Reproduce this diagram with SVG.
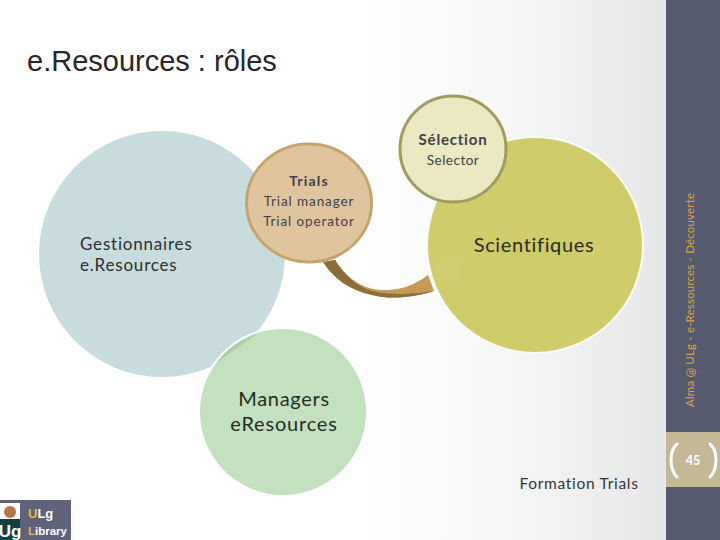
<svg xmlns="http://www.w3.org/2000/svg" width="720" height="540" viewBox="0 0 720 540">
<style>
.c{font-family:Lato,"Open Sans","Liberation Sans",sans-serif;font-variant-ligatures:none}
.m{text-anchor:middle}
.d{fill:#3f4148}
.b{font-weight:700}
</style>
<defs>
<linearGradient id="bg" gradientUnits="userSpaceOnUse" x1="360" y1="0" x2="666" y2="0">
<stop offset="0" stop-color="#ffffff"/>
<stop offset="0.45" stop-color="#f7f7f7"/>
<stop offset="1" stop-color="#e6e7e8"/>
</linearGradient>
</defs>
<rect id="background" width="720" height="540" fill="url(#bg)"/>
<g id="sidebar">
<rect x="666" width="54" height="540" fill="#555a6e"/>
<rect x="666" y="432" width="54" height="55" fill="#c4b795"/>
<path d="M677 444Q671 449 671 460Q671 471 677 477M710 444Q716 449 716 460Q716 471 710 477" fill="none" stroke="#fff" stroke-width="3" stroke-linecap="round"/>
<text class="c m b" x="693" y="465" font-size="12.5" fill="#fff">45</text>
<text class="c" transform="translate(694 407) rotate(-90)" font-size="11.5" fill="#d9a441" textLength="214" lengthAdjust="spacing">Alma @ ULg - e-Ressources - Découverte</text>
</g>
<text id="title" x="27" y="71" font-family="'Liberation Sans',sans-serif" font-size="29" fill="#26262c">e.Resources : rôles</text>
<g id="connectors">
<path d="M323 262C335 280 350 290 372 295C392 300 415 297 434 291L428 275C415 285 400 290 387 290C365 291 348 280 335 260Z" fill="#c49a55"/>
<path d="M323 262C335 280 350 290 372 295C392 300 415 297 434 291C410 295 390 295 372 291C358 287 345 276 335 260Z" fill="#8d6d3a"/>
</g>
<g id="node-gestionnaires">
<circle cx="162" cy="254" r="123" fill="#c9dcdd"/>
<text class="c" x="80" y="250" font-size="17" letter-spacing="0.8" fill="#2b2f33">Gestionnaires</text>
<text class="c" x="80" y="271" font-size="17" letter-spacing="0.8" fill="#2b2f33">e.Resources</text>
</g>
<g id="node-scientifiques">
<circle cx="535" cy="245" r="109" fill="#fbfbf6"/>
<circle cx="535" cy="245" r="107" fill="#d0cb6b"/>
<path d="M434 262L456 256L459 276L436 284Z" fill="#d4cf78" opacity="0.6"/>
<text class="c m" x="534" y="252" font-size="20" letter-spacing="0.65" fill="#2b2d1f">Scientifiques</text>
</g>
<g id="node-managers">
<circle cx="283" cy="412" r="85" fill="#fff"/>
<circle cx="283" cy="412" r="83" fill="#c3e0bf"/>
<path d="M217 362A83 83 0 0 1 257 334Z" fill="#a9cfa8"/>
<text class="c m" x="284" y="406" font-size="20" letter-spacing="0.7" fill="#1f2e1f">Managers</text>
<text class="c m" x="284" y="431" font-size="20" letter-spacing="0.8" fill="#1f2e1f">eResources</text>
</g>
<g id="node-trials">
<ellipse cx="309" cy="203" rx="62.5" ry="59" fill="#dfc49d" stroke="#c5a36c" stroke-width="3"/>
<text class="c m b d" x="309" y="186" font-size="14" letter-spacing="1.2">Trials</text>
<text class="c m d" x="309" y="206" font-size="13.5" letter-spacing="0.9">Trial manager</text>
<text class="c m d" x="309" y="226" font-size="13.5" letter-spacing="0.9">Trial operator</text>
</g>
<g id="node-selection">
<circle cx="453" cy="149" r="53" fill="#ece8c1" stroke="#9e9c5e" stroke-width="3"/>
<text class="c m b d" x="453" y="145" font-size="15" letter-spacing="0.8">Sélection</text>
<text class="c m d" x="453" y="165" font-size="13.5" letter-spacing="0.5">Selector</text>
</g>
<text id="caption" class="c m" x="579" y="489" font-size="15.5" letter-spacing="0.7" fill="#33353b">Formation Trials</text>
<g id="logo">
<rect y="500" width="71" height="40" fill="#60617a"/>
<rect y="503" width="20" height="37" fill="#fdfdfb"/>
<rect y="519" width="20" height="21" fill="#123f3f"/>
<circle cx="10" cy="512" r="6" fill="#b5764a"/>
<text x="10" y="537" font-family="'Liberation Sans',sans-serif" font-size="17" font-weight="700" fill="#fff" text-anchor="middle">Ug</text>
<text x="28" y="518" font-family="'Liberation Sans',sans-serif" font-size="13" font-weight="700" fill="#fff"><tspan fill="#e8b93f">U</tspan>Lg</text>
<text x="28" y="535" font-family="'Liberation Sans',sans-serif" font-size="11.5" font-weight="700" fill="#fff"><tspan fill="#e8b93f">L</tspan>ibrary</text>
</g>
</svg>
